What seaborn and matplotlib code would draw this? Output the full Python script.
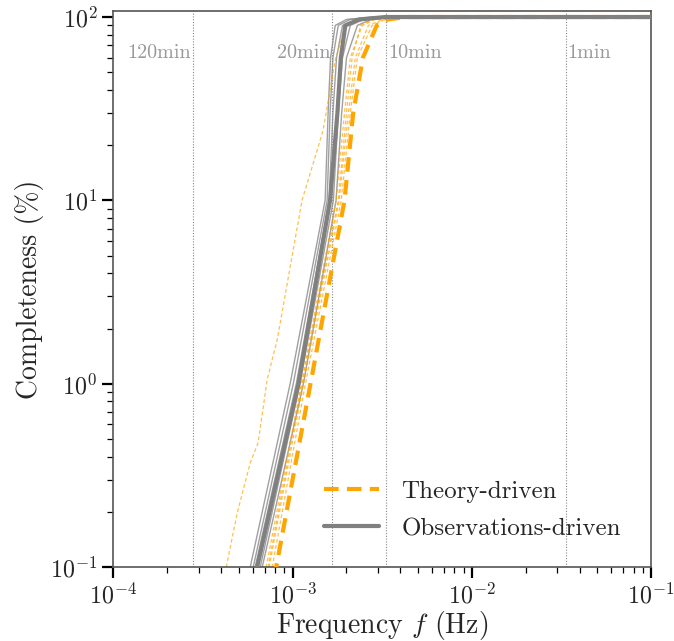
import numpy as np
import pandas as pd
import matplotlib
matplotlib.use("Agg")
import matplotlib.pyplot as plt
from matplotlib.lines import Line2D
import seaborn as sns

# ---------------- data ----------------
# completeness levels (%) shared by most curves
comp_levels = [0.05, 0.1, 1.0, 10.0, 30.0, 60.0, 90.0, 97.0, 100.0, 100.0]

# theory-driven, median (thick dashed)
theory_main_f = [6.9e-4, 8.11e-4, 1.26e-3, 1.95e-3, 2.18e-3, 2.47e-3, 2.95e-3, 3.4e-3, 4.3e-3, 0.1]
# theory-driven, individual (thin dashed)
theory_t1_f = [6.1e-4, 7.13e-4, 1.12e-3, 1.75e-3, 1.95e-3, 2.10e-3, 2.45e-3, 2.9e-3, 3.8e-3, 0.1]
theory_t2_f = [6.3e-4, 7.41e-4, 1.15e-3, 1.82e-3, 2.05e-3, 2.24e-3, 2.65e-3, 3.2e-3, 4.2e-3, 0.1]
theory_t3_f = [6.6e-4, 7.71e-4, 1.18e-3, 1.87e-3, 2.10e-3, 2.30e-3, 2.78e-3, 3.3e-3, 4.4e-3, 0.1]
theory_t4_f = [6.2e-4, 7.31e-4, 1.13e-3, 1.80e-3, 2.00e-3, 2.15e-3, 2.40e-3, 2.8e-3, 3.6e-3, 0.1]
# theory-driven, outlier (own completeness grid)
theory_t5_comp = [0.05, 0.1, 0.198, 0.37, 0.477, 1.05, 1.74, 10.0, 24.0, 58.0, 90.0, 99.0, 100.0, 100.0]
theory_t5_f = [3.7e-4, 4.27e-4, 4.92e-4, 5.81e-4, 6.43e-4, 7.22e-4, 8.22e-4, 1.13e-3,
               1.48e-3, 1.73e-3, 1.97e-3, 2.71e-3, 3.5e-3, 0.1]

# observations-driven, median (thick solid)
obs_main_f = [5.42e-4, 6.35e-4, 1.08e-3, 1.62e-3, 1.78e-3, 1.86e-3, 1.97e-3, 2.35e-3, 3.3e-3, 0.1]
# observations-driven, individual (thin solid)
obs_o1_f = [4.95e-4, 5.81e-4, 9.70e-4, 1.52e-3, 1.58e-3, 1.63e-3, 1.73e-3, 2.0e-3, 2.8e-3, 0.1]
obs_o2_f = [5.15e-4, 6.04e-4, 1.01e-3, 1.56e-3, 1.62e-3, 1.68e-3, 1.80e-3, 2.1e-3, 2.9e-3, 0.1]
obs_o3_f = [5.65e-4, 6.61e-4, 1.10e-3, 1.69e-3, 1.80e-3, 1.90e-3, 2.10e-3, 2.5e-3, 3.4e-3, 0.1]
obs_o4_f = [5.8e-4, 6.78e-4, 1.15e-3, 1.75e-3, 1.88e-3, 2.00e-3, 2.30e-3, 2.75e-3, 3.7e-3, 0.1]
obs_o5_f = [5.3e-4, 6.19e-4, 1.05e-3, 1.60e-3, 1.68e-3, 1.76e-3, 1.90e-3, 2.3e-3, 3.1e-3, 0.1]

# orbital periods marked (minutes) -> GW frequency 2/P
period_labels = ["120min", "20min", "10min", "1min"]
period_minutes = [120, 20, 10, 1]

legend_labels = ["Theory-driven", "Observations-driven"]

# ---------------- style ----------------
sns.set_style("ticks")
plt.rcParams["font.family"] = "serif"
plt.rcParams["font.serif"] = ["cmr10", "DejaVu Serif"]
plt.rcParams["mathtext.fontset"] = "cm"
plt.rcParams["axes.formatter.use_mathtext"] = True
plt.rcParams["axes.unicode_minus"] = False

ORANGE = "#FFA500"
GRAY = "#808080"

fig = plt.figure(figsize=(6.74, 6.41), dpi=100)
ax = fig.add_axes([0.168, 0.1154, 0.798, 0.8676])
ax.set_xscale("log")
ax.set_yscale("log")

def draw(freqs, comps, **kw):
    df = pd.DataFrame({"f": freqs, "c": comps})
    sns.lineplot(data=df, x="f", y="c", ax=ax, estimator=None, sort=False, **kw)

# thin curves first
for fr in [obs_o1_f, obs_o2_f, obs_o3_f, obs_o4_f, obs_o5_f]:
    draw(fr, comp_levels, color=GRAY, lw=1.0, alpha=0.75, zorder=2)
for fr in [theory_t1_f, theory_t2_f, theory_t3_f, theory_t4_f]:
    draw(fr, comp_levels, color=ORANGE, lw=0.9, alpha=0.7, linestyle=(0, (3, 2)), zorder=2)
draw(theory_t5_f, theory_t5_comp, color=ORANGE, lw=0.9, alpha=0.7, linestyle=(0, (3, 2)), zorder=2)

# thick curves (observations drawn on top)
draw(theory_main_f, comp_levels, color=ORANGE, lw=3.0, linestyle=(0, (3.5, 2)), zorder=3)
draw(obs_main_f, comp_levels, color=GRAY, lw=3.0, zorder=4)

# period markers
for lab, pm in zip(period_labels, period_minutes):
    fgw = 2.0 / (pm * 60.0)
    ax.axvline(fgw, color="#888888", lw=0.8, ls=(0, (1, 1.5)), zorder=0)
    if pm >= 20:
        ax.text(fgw / 1.02, 64, lab, ha="right", va="center", color="#999999", fontsize=14.5)
    else:
        ax.text(fgw * 1.02, 64, lab, ha="left", va="center", color="#999999", fontsize=14.5)

ax.set_xlim(1e-4, 1e-1)
ax.set_ylim(0.1, 108)
ax.set_xlabel("Frequency $f$ (Hz)", fontsize=20, labelpad=0)
ax.set_ylabel("Completeness (%)", fontsize=20)

ax.tick_params(axis="both", which="major", direction="out", length=8, width=1.6,
               labelsize=17.3, color="black")
ax.tick_params(axis="both", which="minor", direction="out", length=4.5, width=0.9, color="black")
for s in ax.spines.values():
    s.set_color("#555555")
    s.set_linewidth(1.2)

handles = [Line2D([0], [0], color=ORANGE, lw=3.0, linestyle=(0, (3.5, 2))),
           Line2D([0], [0], color=GRAY, lw=3.0)]
ax.legend(handles, legend_labels, loc="lower right", bbox_to_anchor=(0.986, 0.008),
          frameon=False, fontsize=18, handlelength=2.2, handletextpad=0.9,
          labelspacing=0.6)

fig.savefig("out.png", dpi=100)
